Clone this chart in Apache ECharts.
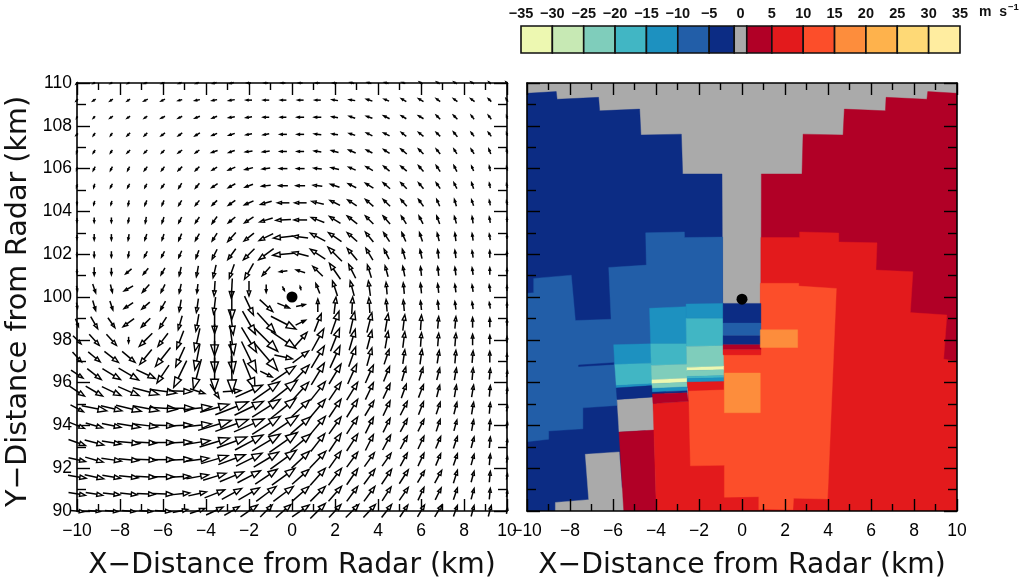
<!DOCTYPE html>
<html>
<head>
<meta charset="utf-8">
<style>html,body{margin:0;padding:0;background:#fff}#c{width:1024px;height:585px}</style>
<script src="https://cdn.jsdelivr.net/npm/echarts@6/dist/echarts.min.js"></script>
</head>
<body>
<div id="c"></div>
<script>
const gridX = [-10,-9.2,-8.4,-7.6,-6.8,-6,-5.2,-4.4,-3.6,-2.8,-2,-1.2,-0.4,0.4,1.2,2,2.8,3.6,4.4,5.2,6,6.8,7.6,8.4,9.2,10];
const gridY = [110,109.2,108.4,107.6,106.8,106,105.2,104.4,103.6,102.8,102,101.2,100.4,99.6,98.8,98,97.2,96.4,95.6,94.8,94,93.2,92.4,91.6,90.8,90];
const windU = [
[-2,-2,-2,-2,-3,-3,-3,-3,-4,-4,-4,-4,-4,-4,-4,-4,-4,-4,-4,-3,-3,-3,-3,-3,-2,-2],
[-2,-3,-3,-3,-4,-4,-4,-5,-5,-6,-6,-6,-6,-6,-6,-6,-6,-6,-5,-5,-5,-4,-4,-4,-3,-2],
[-1,-2,-3,-3,-3,-4,-4,-5,-5,-6,-6,-6,-6,-7,-7,-6,-6,-6,-6,-5,-5,-4,-4,-3,-3,-1],
[-2,-2,-2,-3,-3,-4,-4,-5,-5,-6,-6,-6,-7,-7,-7,-6,-6,-6,-6,-5,-5,-4,-4,-3,-3,-1],
[-1,-2,-2,-3,-3,-3,-4,-4,-6,-6,-7,-7,-7,-7,-7,-7,-7,-6,-6,-6,-5,-4,-3,-3,-2,-1],
[-1,-2,-2,-2,-3,-3,-4,-4,-5,-7,-8,-8,-8,-8,-8,-8,-7,-7,-6,-6,-5,-4,-3,-2,-1,-1],
[-1,-1,-2,-2,-2,-3,-3,-4,-6,-7,-8,-9,-9,-9,-9,-9,-8,-8,-7,-6,-5,-4,-3,-2,-1,-1],
[0,-1,-1,-1,-2,-2,-3,-4,-5,-7,-9,-11,-12,-12,-12,-10,-9,-8,-7,-6,-5,-3,-2,-2,-1,-1],
[0,0,0,-1,-1,-2,-3,-4,-5,-7,-9,-13,-15,-13,-13,-11,-10,-8,-7,-5,-4,-3,-2,-1,-1,0],
[0,0,0,-1,-2,-2,-3,-4,-5,-8,-10,-14,-20,-15,-15,-13,-10,-8,-6,-4,-3,-2,-1,-1,-1,0],
[0,0,0,-1,-3,-3,-3,-3,-5,-8,-11,-15,-21,-16,-15,-14,-10,-7,-5,-3,-2,-1,-1,-1,0,0],
[0,0,0,-6,-5,-4,-2,-2,-3,-5,-9,-8,-8,-9,-10,-11,-7,-4,-3,-2,-1,-1,-1,-1,0,0],
[1,3,2,-9,-7,-4,-2,-1,-1,-1,0,0,2,-1,-4,-5,-4,-2,-1,-1,-1,-1,-1,-1,-1,0],
[1,3,3,-9,-8,-5,-2,-2,-2,0,9,13,12,9,0,2,1,-1,-1,-1,-1,-1,-1,-1,-1,0],
[3,7,7,-11,-9,-7,-4,-3,0,3,13,18,25,10,7,8,5,5,3,2,1,1,1,0,0,0],
[8,10,10,0,-13,-10,-7,-5,0,4,15,23,25,13,12,9,6,5,3,2,1,1,1,0,0,0],
[9,12,14,13,-12,-15,-9,-5,0,3,15,23,18,16,13,10,7,5,5,2,2,2,1,1,0,0],
[12,14,18,20,19,-12,-13,-8,0,1,12,12,24,17,13,12,9,8,6,4,4,3,2,1,1,1],
[15,17,19,21,26,27,23,15,9,18,27,27,28,16,15,12,11,8,7,5,5,3,2,2,1,1],
[13,25,21,25,26,28,28,28,29,33,29,28,25,18,15,12,11,9,7,7,5,4,3,2,1,1],
[15,17,19,23,24,23,23,28,33,33,30,28,30,20,15,12,11,8,7,7,6,4,3,2,1,1],
[17,19,19,22,21,22,23,25,30,30,28,28,28,20,14,12,11,8,8,7,6,5,4,3,1,1],
[17,18,20,20,21,22,23,23,27,27,26,25,26,18,16,12,11,10,9,7,6,5,4,3,1,1],
[18,19,18,19,20,22,20,22,23,24,23,22,23,17,15,13,11,11,10,9,7,7,4,3,1,1],
[17,17,17,17,18,20,19,18,20,20,21,20,20,17,15,13,11,11,9,9,6,6,4,3,1,1],
[14,12,13,13,13,16,15,15,17,15,17,12,15,17,15,12,13,12,10,8,7,7,4,3,3,1]
];
const windV = [
[-2,-1,-1,-1,-1,-1,-1,-1,-1,-1,0,0,0,0,0,0,1,1,1,1,2,2,2,2,2,2],
[-2,-2,-2,-2,-2,-2,-1,-1,-1,-1,0,0,0,0,0,1,1,2,2,3,3,3,3,3,3,3],
[-2,-2,-2,-2,-2,-2,-2,-2,-2,-1,-1,0,0,0,0,1,2,2,3,3,3,4,4,4,4,3],
[-2,-3,-3,-3,-3,-3,-3,-3,-2,-2,-1,-1,0,0,1,1,2,3,3,4,4,4,5,4,4,3],
[-3,-3,-3,-3,-3,-3,-3,-3,-2,-2,-1,-1,0,0,1,2,3,3,4,5,5,5,5,5,5,4],
[-3,-4,-4,-4,-4,-4,-4,-4,-3,-3,-2,-1,0,0,1,2,3,4,5,5,6,6,6,5,5,4],
[-3,-4,-4,-4,-4,-4,-5,-5,-4,-4,-3,-1,0,0,1,3,4,5,6,6,6,6,6,6,5,4],
[-3,-4,-4,-5,-5,-5,-5,-5,-5,-5,-4,-3,0,0,3,5,6,7,7,7,7,7,7,6,5,4],
[-4,-5,-5,-5,-6,-6,-6,-6,-7,-6,-6,-4,-1,0,5,7,8,8,8,8,8,8,7,7,6,4],
[-4,-6,-6,-6,-6,-6,-7,-7,-8,-9,-8,-7,-2,2,8,9,9,10,9,9,9,8,8,7,6,4],
[-4,-6,-6,-6,-6,-6,-7,-8,-10,-11,-11,-11,-2,4,10,14,12,12,10,10,9,9,8,7,7,5],
[-4,-8,-7,-5,-6,-7,-9,-11,-13,-14,-16,-9,-1,3,10,16,14,13,11,10,9,9,8,7,7,5],
[-5,-9,-8,-5,-8,-8,-9,-9,-15,-20,-15,-8,-4,4,10,15,15,15,12,11,10,9,8,7,7,5],
[-6,-10,-9,-6,-7,-9,-12,-14,-17,-28,-19,-12,-5,2,13,17,17,15,12,11,9,9,8,7,6,5],
[-8,-12,-10,-8,-9,-11,-14,-17,-22,-24,-23,-20,-13,5,18,23,22,20,18,16,15,12,12,10,9,6],
[-8,-11,-11,-6,-13,-13,-18,-23,-32,-30,-25,-23,-17,15,22,23,21,19,17,16,14,13,13,11,9,6],
[-10,-10,-11,-11,-15,-19,-20,-26,-32,-32,-31,-27,-4,12,22,22,20,18,15,14,15,13,13,12,11,6],
[-8,-11,-11,-12,-9,-18,-27,-30,-33,-37,-30,-6,16,18,22,20,20,18,15,14,13,12,12,12,11,6],
[-10,-10,-9,-9,-7,-4,-1,-5,-14,1,12,19,22,18,19,18,18,17,15,14,13,12,12,12,11,6],
[-7,-5,-5,-6,-5,-2,0,3,8,13,14,18,20,17,18,18,18,15,15,14,13,12,12,12,11,6],
[-6,-5,-4,-4,-3,-1,1,3,10,12,13,18,20,17,18,17,17,16,14,13,12,12,11,11,11,6],
[-6,-5,-3,-2,-1,0,1,4,9,11,15,17,20,17,18,18,17,16,15,13,13,12,12,11,11,6],
[-4,-5,-3,-2,-1,0,1,3,8,10,13,15,19,17,17,17,15,14,13,13,13,12,12,11,11,6],
[-3,-4,-3,-2,-1,0,1,4,7,10,12,15,17,15,17,17,16,15,15,14,12,13,13,11,11,6],
[-3,-3,-2,-2,-1,-1,2,4,8,11,12,15,15,15,15,15,15,15,14,13,13,12,12,11,11,6],
[-1,-1,-1,-1,-1,-1,3,5,8,9,12,12,13,12,15,13,13,13,13,12,12,12,11,11,11,6]
];
const velocityBreaks = [-35,-30,-25,-20,-15,-10,-5,-1,1,5,10,15,20,25,30,35];
const velocityColors = ['#EDF8B1','#C7E9B4','#7FCDBB','#41B6C4','#1D91C0','#225EA8','#0C2C84','#AAAAAA','#B10026','#E31A1C','#FC4E2A','#FD8D3C','#FEB24C','#FED976','#FFEDA0'];
const radarDot = [[0,100]];
const radarDotRight = [[0,99.9]];
const regionVelocity = [0,-3,-7,0,0,3,3,7,12,
  -12,-17,-12,-3,
  -12,-17,-22,-32,-22,-12,-3,3,
  -12,-17,-22,-32,-22,-17,-12,7,
  -3,-7,-3,3,7,17,17,-3];
const regionRings = [
 [[-10,110],[10,110],[10,90],[-10,90]],
 [[-10,109.52],[-8.64,109.6],[-8.6,109.24],[-6.67,109.33],[-6.62,108.7],[-4.76,108.78],[-4.7,107.57],[-2.82,107.61],[-2.76,105.75],[-0.93,105.75],[-0.9,99],[-4,95],[-5.6,91],[-5.6,90],[-10,90]],
 [[-9.69,100.87],[-7.94,101.02],[-7.75,98.9],[-6.09,98.96],[-6.2,101.38],[-4.45,101.49],[-4.48,103],[-2.68,103.04],[-2.67,102.78],[-0.9,102.8],[-0.9,96],[-5.81,95.3],[-5.81,94.93],[-7.4,94.82],[-7.4,93.84],[-8.99,93.74],[-8.99,93.35],[-10,93.24],[-10,100.17],[-9.69,100.2]],
 [[-7.29,92.65],[-5.71,92.76],[-5.5,90],[-8.68,90],[-8.68,90.4],[-7.13,90.53]],
 [[-5.81,95.21],[-4.14,95.33],[-4.09,93.78],[-5.72,93.69]],
 [[-5.72,93.69],[-4.09,93.78],[-3.98,90],[-5.5,90]],
 [[0.9,105.75],[2.79,105.75],[2.84,107.61],[4.7,107.57],[4.76,108.78],[6.67,108.7],[6.7,109.33],[8.6,109.24],[8.64,109.6],[10,109.52],[10,96.9],[0.88,97.3]],
 [[0.88,102.78],[2.68,102.78],[2.68,103.04],[4.5,102.99],[4.5,102.57],[6.28,102.53],[6.23,101.26],[7.95,101.18],[7.83,99.27],[9.53,99.16],[9.38,97.1],[10,96.99],[10,90],[-3.98,90],[-4.14,95.02],[-2.5,95.13],[-2.5,96],[-0.9,96],[-0.9,97.5],[0.88,97.5]],
 [[0.85,100.64],[2.64,100.64],[2.64,100.51],[4.39,100.4],[3.98,90.56],[2.4,90.6],[2.37,90.06],[1,90.09],[0.78,90.06],[0.78,90.67],[-0.82,90.64],[-0.82,92.14],[-2.4,92.11],[-2.48,95.63],[-0.9,95.9],[-0.9,97.3],[0.85,97.3]],
 [[-5.97,97.77],[-4.25,97.81],[-4.21,96.91],[-5.92,96.84]],
 [[-5.92,96.84],[-4.21,96.91],[-4.16,95.95],[-5.85,95.86]],
 [[-5.85,95.86],[-4.16,95.95],[-4.16,95.86],[-5.85,95.75]],
 [[-5.85,95.75],[-4.16,95.86],[-4.14,95.33],[-5.81,95.21]],
 [[-4.3,99.47],[-2.6,99.55],[-2.58,97.81],[-4.25,97.81]],
 [[-4.25,97.81],[-2.58,97.81],[-2.56,96.86],[-4.22,96.8]],
 [[-4.22,96.8],[-2.56,96.86],[-2.55,96.2],[-4.19,96.13]],
 [[-4.19,96.13],[-2.55,96.2],[-2.55,96.02],[-4.19,95.95]],
 [[-4.19,95.95],[-2.55,96.02],[-2.55,95.8],[-4.17,95.73]],
 [[-4.17,95.73],[-2.55,95.8],[-2.55,95.62],[-4.17,95.55]],
 [[-4.17,95.55],[-2.55,95.62],[-2.55,95.52],[-4.17,95.47]],
 [[-4.17,95.47],[-2.55,95.52],[-2.5,95.13],[-4.14,95.02]],
 [[-2.6,99.67],[-0.88,99.7],[-0.88,99],[-2.6,99]],
 [[-2.6,99],[-0.88,99],[-0.88,97.72],[-2.58,97.69]],
 [[-2.58,97.69],[-0.88,97.72],[-0.85,96.76],[-2.56,96.71]],
 [[-2.56,96.71],[-0.85,96.76],[-0.85,96.6],[-2.56,96.56]],
 [[-2.56,96.56],[-0.85,96.6],[-0.85,96.33],[-2.56,96.29]],
 [[-2.56,96.29],[-0.85,96.33],[-0.85,96.23],[-2.55,96.19]],
 [[-2.55,96.19],[-0.85,96.23],[-0.85,96.05],[-2.55,96.02]],
 [[-2.55,96.02],[-0.85,96.05],[-0.85,95.68],[-2.5,95.62]],
 [[-0.88,99.7],[0.88,99.7],[0.88,98.78],[-0.88,98.78]],
 [[-0.88,98.78],[0.88,98.78],[0.88,98.19],[-0.88,98.19]],
 [[-0.88,98.19],[0.88,98.19],[0.88,97.77],[-0.88,97.77]],
 [[-0.88,97.77],[0.88,97.77],[0.88,97.53],[-0.88,97.53]],
 [[-0.88,97.53],[0.88,97.53],[0.88,97.3],[-0.88,97.3]],
 [[-0.82,96.45],[0.85,96.45],[0.85,94.59],[-0.82,94.59]],
 [[0.85,98.47],[2.59,98.47],[2.59,97.64],[0.85,97.64]],
 [[-7.6,96.82],[-5.97,96.93],[-5.97,96.85],[-7.6,96.75]]
];

const SANS = 'Liberation Sans';
const TITLE_FONT = 'DejaVu Sans';
const KM_PER_MS = 1 / 21.5;

const windData = [];
gridY.forEach((y, r) => gridX.forEach((x, c) => windData.push([x, y, windU[r][c], windV[r][c]])));

function colorFor(v) {
  for (let i = 0; i < velocityColors.length; i++) {
    if (v >= velocityBreaks[i] && v < velocityBreaks[i + 1]) return velocityColors[i];
  }
  return velocityColors[velocityColors.length - 1];
}

function renderArrow(params, api) {
  const x = api.value(0), y = api.value(1), u = api.value(2), v = api.value(3);
  const a = api.coord([x - u * KM_PER_MS / 2, y - v * KM_PER_MS / 2]);
  const b = api.coord([x + u * KM_PER_MS / 2, y + v * KM_PER_MS / 2]);
  const dx = b[0] - a[0], dy = b[1] - a[1];
  const L = Math.hypot(dx, dy) || 1;
  const ux = dx / L, uy = dy / L, hl = 0.34 * L, hw = 0.12 * L;
  const base = [b[0] - ux * hl, b[1] - uy * hl];
  return {
    type: 'group',
    children: [
      { type: 'line', shape: { x1: a[0], y1: a[1], x2: base[0], y2: base[1] }, style: { stroke: '#000', lineWidth: 1.5 } },
      { type: 'polygon', shape: { points: [b, [base[0] - uy * hw, base[1] + ux * hw], [base[0] + uy * hw, base[1] - ux * hw]] },
        style: { fill: '#fff', stroke: '#000', lineWidth: 1.4 } }
    ]
  };
}

function renderRegion(params, api) {
  const i = api.value(0);
  return {
    type: 'polygon',
    shape: { points: regionRings[i].map(p => api.coord(p)) },
    style: { fill: colorFor(regionVelocity[i]), stroke: colorFor(regionVelocity[i]), lineWidth: 0.4 }
  };
}

function renderCell(params, api) {
  const a = api.coord([api.value(0), 1]), b = api.coord([api.value(1), 0]);
  return {
    type: 'rect',
    shape: { x: a[0], y: a[1], width: b[0] - a[0], height: b[1] - a[1] },
    style: { fill: velocityColors[api.value(2)], stroke: '#111', lineWidth: 1.6 }
  };
}

const fmtMinus = v => String(v).replace('-', '\u2212');

function xAx(gridIndex, position, labelled, z, name) {
  return {
    type: 'value', gridIndex, min: -10, max: 10, interval: 2, position, z,
    name: name || '', nameLocation: 'middle', nameGap: 41,
    nameTextStyle: { fontFamily: TITLE_FONT, fontSize: 28.2, color: '#111' },
    axisLine: { onZero: false, show: true, lineStyle: { color: '#000', width: 1.6 } },
    axisTick: { show: true, inside: true, length: 12, lineStyle: { color: '#000', width: 1.4 } },
    minorTick: { show: true, splitNumber: 2, length: 7, lineStyle: { color: '#000', width: 1.4 } },
    splitLine: { show: false }, minorSplitLine: { show: false },
    axisLabel: { show: labelled, margin: 11, hideOverlap: false, showMinLabel: true, showMaxLabel: true, fontFamily: SANS, fontSize: 17.5, color: '#000', formatter: fmtMinus }
  };
}
function yAx(gridIndex, position, labelled, z, name) {
  return {
    type: 'value', gridIndex, min: 90, max: 110, interval: 2, position, z,
    name: name || '', nameLocation: 'middle', nameGap: 44, nameRotate: 90,
    nameTextStyle: { fontFamily: TITLE_FONT, fontSize: 28.6, color: '#111', padding: [0, 9, 0, 0] },
    axisLine: { onZero: false, show: true, lineStyle: { color: '#000', width: 1.6 } },
    axisTick: { show: true, inside: true, length: 13, lineStyle: { color: '#000', width: 1.4 } },
    minorTick: { show: true, splitNumber: 2, length: 9, lineStyle: { color: '#000', width: 1.4 } },
    splitLine: { show: false }, minorSplitLine: { show: false },
    axisLabel: { show: labelled, margin: 5, showMinLabel: true, showMaxLabel: true, verticalAlignMinLabel: 'middle', verticalAlignMaxLabel: 'middle', fontFamily: SANS, fontSize: 17.5, color: '#000' }
  };
}

const chart = echarts.init(document.getElementById('c'), null, { renderer: 'canvas' });
chart.setOption({
  animation: false,
  backgroundColor: '#fff',
  grid: [
    { left: 77, top: 83, width: 430, height: 429, containLabel: false },
    { left: 527, top: 83, width: 430, height: 429, containLabel: false },
    { left: 521, top: 26, width: 439, height: 27, containLabel: false }
  ],
  xAxis: [
    xAx(0, 'bottom', true, 1, 'X\u2212Distance from Radar (km)'), xAx(0, 'top', false, 1),
    xAx(1, 'bottom', true, 10, 'X\u2212Distance from Radar (km)'), xAx(1, 'top', false, 10),
    { type: 'value', gridIndex: 2, min: -35, max: 35, interval: 5, position: 'top',
      axisLine: { show: false }, axisTick: { show: false }, splitLine: { show: false },
      axisLabel: { margin: 5, showMinLabel: true, showMaxLabel: true, fontFamily: SANS, fontWeight: 'bold', fontSize: 14.5, color: '#111', formatter: fmtMinus } }
  ],
  yAxis: [
    yAx(0, 'left', true, 1, 'Y\u2212Distance from Radar (km)'), yAx(0, 'right', false, 1),
    yAx(1, 'left', false, 10), yAx(1, 'right', false, 10),
    { type: 'value', gridIndex: 2, min: 0, max: 1, show: false }
  ],
  series: [
    { type: 'custom', xAxisIndex: 0, yAxisIndex: 0, coordinateSystem: 'cartesian2d', clip: false,
      renderItem: renderArrow, data: windData, encode: { x: 0, y: 1 }, z: 3, silent: true },
    { type: 'scatter', xAxisIndex: 0, yAxisIndex: 0, data: radarDot, symbolSize: 11, itemStyle: { color: '#000', opacity: 1 }, z: 4, silent: true },
    { type: 'custom', xAxisIndex: 2, yAxisIndex: 2, coordinateSystem: 'cartesian2d', clip: true,
      renderItem: renderRegion, data: regionRings.map((r, i) => [i]), encode: { x: [], y: [] }, z: 2, silent: true },
    { type: 'scatter', xAxisIndex: 2, yAxisIndex: 2, data: radarDotRight, symbolSize: 11, itemStyle: { color: '#000', opacity: 1 }, z: 4, silent: true },
    { type: 'custom', xAxisIndex: 4, yAxisIndex: 4, coordinateSystem: 'cartesian2d', clip: false,
      renderItem: renderCell, data: velocityColors.map((c, i) => [velocityBreaks[i], velocityBreaks[i + 1], i]), encode: { x: [0, 1] }, z: 2, silent: true }
  ],
  graphic: [
    { type: 'text', left: 979, top: 2, silent: true,
      style: { text: '{a|m  s}{b|\u22121}', rich: {
        a: { fontFamily: SANS, fontWeight: 'bold', fontSize: 14, fill: '#111', padding: [7, 1, 0, 0] },
        b: { fontFamily: SANS, fontWeight: 'bold', fontSize: 9.5, fill: '#111', padding: [0, 0, 4, 0] } } } }
  ]
});
</script>
</body>
</html>
